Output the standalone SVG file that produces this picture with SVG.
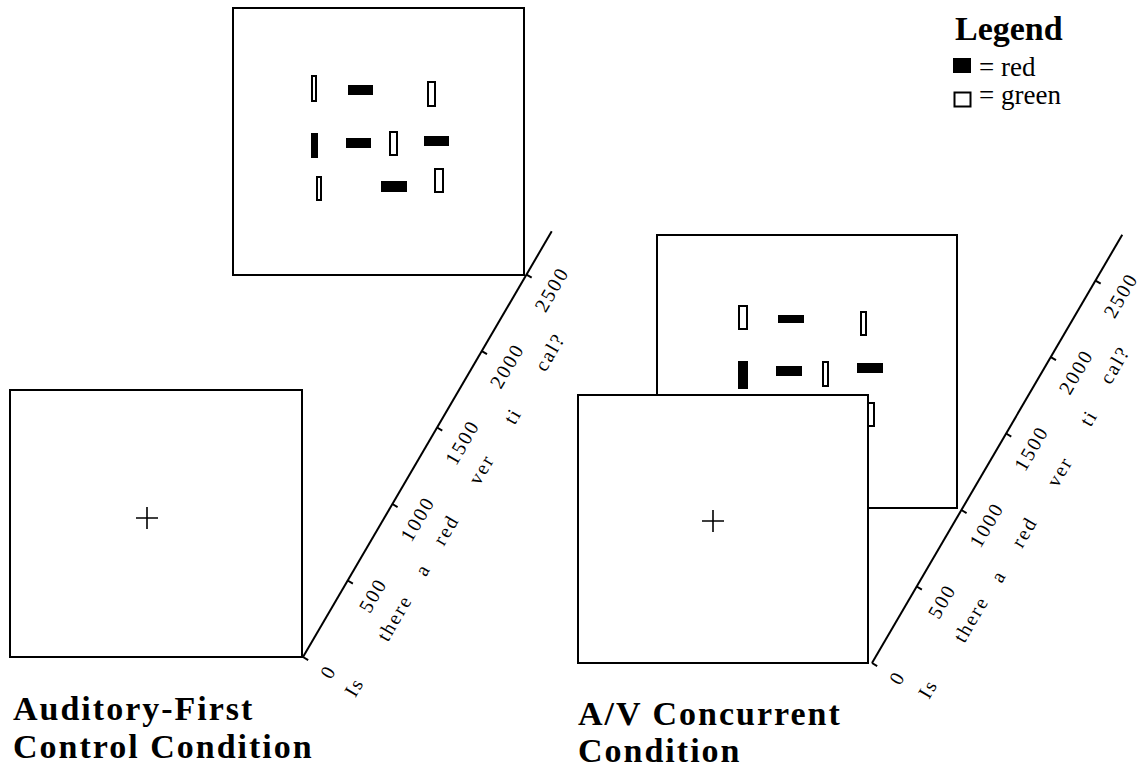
<svg xmlns="http://www.w3.org/2000/svg" width="1140" height="770" viewBox="0 0 1140 770">
<style>
.box{fill:#fff;stroke:#000;stroke-width:2}
.cross{stroke:#000;stroke-width:1.6;fill:none}
.red{fill:#000;stroke:none}
.green{fill:#fff;stroke:#000;stroke-width:2}
.axis{stroke:#000;stroke-width:2;fill:none}
.tick{stroke:#000;stroke-width:2}
.lbl{font-family:"Liberation Serif","Times New Roman",serif;font-size:20px;text-anchor:middle;letter-spacing:2px;fill:#000}
.title{font-family:"Liberation Serif","Times New Roman",serif;font-size:34px;font-weight:bold;letter-spacing:2px;fill:#000}
.leg{font-family:"Liberation Serif","Times New Roman",serif;font-size:27px;fill:#000}
.legh{font-family:"Liberation Serif","Times New Roman",serif;font-size:34px;font-weight:bold;fill:#000}
</style>

<!-- Left panel: Auditory-First -->
<g id="left-visual">
  <rect class="box" x="233" y="8" width="291" height="267"/>
  <rect class="green" x="312" y="76" width="4" height="25"/>
  <rect class="red" x="348" y="85" width="25" height="10"/>
  <rect class="green" x="428" y="82" width="7" height="24"/>
  <rect class="red" x="311" y="133" width="7" height="25"/>
  <rect class="red" x="346" y="138" width="25" height="10"/>
  <rect class="green" x="390" y="132" width="7" height="23"/>
  <rect class="red" x="424" y="136" width="25" height="10"/>
  <rect class="green" x="317" y="177" width="4" height="23"/>
  <rect class="red" x="381" y="181" width="26" height="11"/>
  <rect class="green" x="435" y="169" width="8" height="23"/>
</g>
<g id="left-fixation">
  <rect class="box" x="10" y="390" width="292" height="267"/>
  <path class="cross" d="M136 518 H158 M147 507 V529"/>
</g>
<g id="left-axis" transform="translate(303,657) rotate(-59.7)">
  <line class="axis" x1="0" y1="0" x2="493" y2="0"/>
  <path class="tick" d="M0 0 V6 M88.6 0 V6 M177.2 0 V6 M265.8 0 V6 M354.4 0 V6 M443 0 V6"/>
  <text class="lbl" x="0" y="36">0</text>
  <text class="lbl" x="88.6" y="36">500</text>
  <text class="lbl" x="177.2" y="36">1000</text>
  <text class="lbl" x="265.8" y="36">1500</text>
  <text class="lbl" x="354.4" y="36">2000</text>
  <text class="lbl" x="443" y="36">2500</text>
  <text class="lbl" x="0" y="66">Is</text>
  <text class="lbl" x="80" y="66">there</text>
  <text class="lbl" x="136" y="66">a</text>
  <text class="lbl" x="182" y="66">red</text>
  <text class="lbl" x="252" y="66">ver</text>
  <text class="lbl" x="314" y="66">ti</text>
  <text class="lbl" x="388" y="66">cal?</text>
</g>
<g id="left-title">
  <text class="title" x="13" y="720">Auditory-First</text>
  <text class="title" x="13" y="758">Control Condition</text>
</g>

<!-- Right panel: A/V Concurrent -->
<g id="right-visual">
  <rect class="box" x="657" y="235" width="300" height="273"/>
  <rect class="green" x="739" y="306" width="8" height="23"/>
  <rect class="red" x="778" y="315" width="26" height="8"/>
  <rect class="green" x="861" y="312" width="5" height="23"/>
  <rect class="red" x="738" y="361" width="10" height="28"/>
  <rect class="red" x="776" y="366" width="26" height="10"/>
  <rect class="green" x="823" y="362" width="5" height="24"/>
  <rect class="red" x="857" y="363" width="26" height="10"/>
  <rect class="green" x="867" y="403" width="7" height="23"/>
</g>
<g id="right-fixation">
  <rect class="box" x="578" y="395" width="290" height="268"/>
  <path class="cross" d="M702 521 H724 M713 510 V532"/>
</g>
<g id="right-axis" transform="translate(872,663) rotate(-59.7)">
  <line class="axis" x1="0" y1="0" x2="496" y2="0"/>
  <path class="tick" d="M0 0 V6 M88.6 0 V6 M177.2 0 V6 M265.8 0 V6 M354.4 0 V6 M443 0 V6"/>
  <text class="lbl" x="0" y="36">0</text>
  <text class="lbl" x="88.6" y="36">500</text>
  <text class="lbl" x="177.2" y="36">1000</text>
  <text class="lbl" x="265.8" y="36">1500</text>
  <text class="lbl" x="354.4" y="36">2000</text>
  <text class="lbl" x="443" y="36">2500</text>
  <text class="lbl" x="6" y="68">Is</text>
  <text class="lbl" x="88" y="70">there</text>
  <text class="lbl" x="139" y="72">a</text>
  <text class="lbl" x="190" y="72">red</text>
  <text class="lbl" x="260" y="72">ver</text>
  <text class="lbl" x="321" y="70">ti</text>
  <text class="lbl" x="380" y="66">cal?</text>
</g>
<g id="right-title">
  <text class="title" x="578" y="725">A/V Concurrent</text>
  <text class="title" x="578" y="762">Condition</text>
</g>

<!-- Legend -->
<g id="legend">
  <text class="legh" x="955" y="40">Legend</text>
  <rect class="red" x="953" y="58" width="18" height="15"/>
  <text class="leg" x="979" y="76">= red</text>
  <rect class="green" x="954.5" y="92.5" width="16" height="14"/>
  <text class="leg" x="979" y="104">= green</text>
</g>
</svg>
